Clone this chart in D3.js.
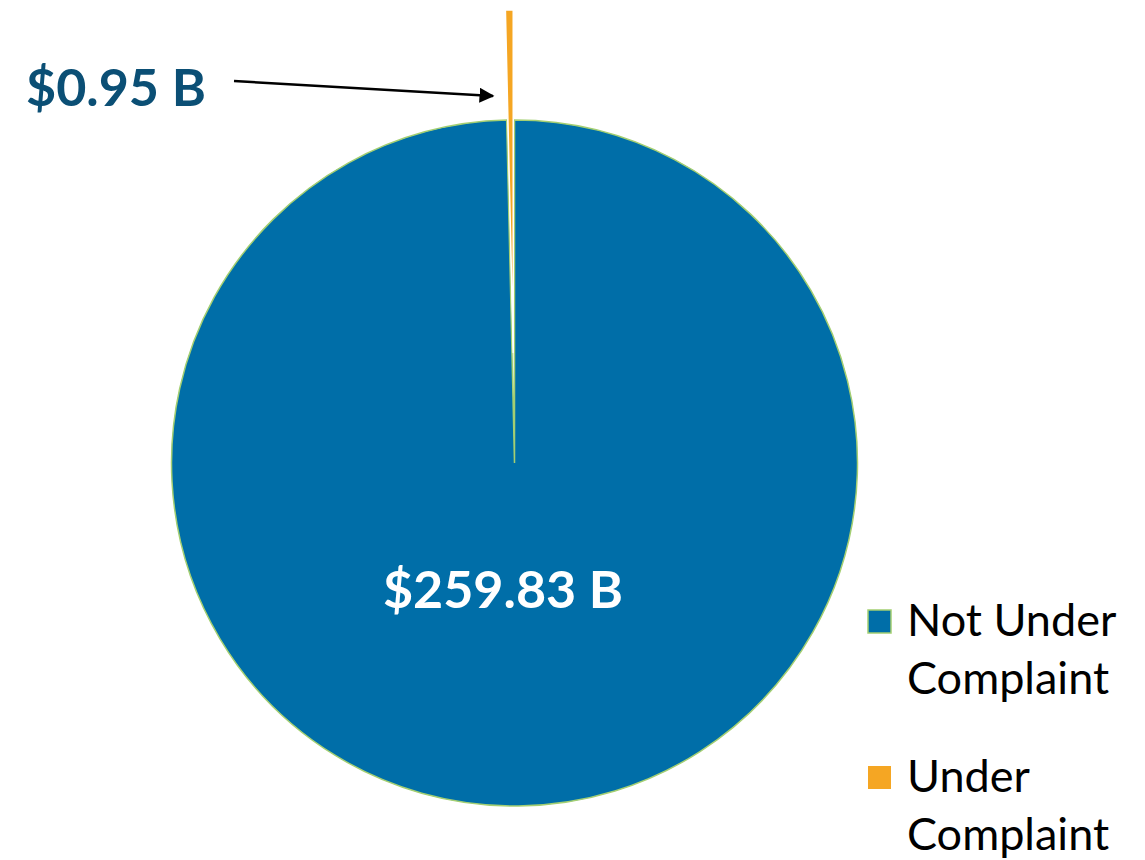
<!DOCTYPE html>
<html>
<head>
<meta charset="utf-8">
<script src="https://cdn.jsdelivr.net/npm/d3@7.9.0/dist/d3.min.js"></script>
<style>
  body { margin: 0; background: #fff; }
  svg { display: block; }
</style>
</head>
<body>
<svg id="chart" width="1145" height="860"></svg>
<script>
// data
const categories = ['Not Under Complaint', 'Under Complaint'];
const values = [259.83, 0.95];
const valueLabels = ['$259.83 B', '$0.95 B'];
const legendLines = [['Not Under', 'Complaint'], ['Under', 'Complaint']];

const colors = d3.scaleOrdinal().domain(categories).range(['#006ea8', '#f5a623']);
const strokes = ['#a4cf72', '#ffffff'];

const svg = d3.select('#chart');
const cx = 514.5, cy = 463, radius = 343;
const explode = [0, 110];

// clockwise from 12 o'clock, so the small slice ends up just left of the top
const pie = d3.pie().sort(null).value((d) => d.value);
const arc = d3.arc().innerRadius(0).outerRadius(radius);

const pieData = pie(categories.map((c, i) => ({ name: c, value: values[i] })));

const g = svg.append('g').attr('transform', `translate(${cx},${cy})`);

g.selectAll('path')
    .data(pieData)
    .join('path')
    .attr('d', arc)
    .attr('fill', (d) => colors(d.data.name))
    .attr('stroke', (d, i) => strokes[i])
    .attr('stroke-width', 1.5)
    .attr('transform', (d, i) => {
        const mid = (d.startAngle + d.endAngle) / 2;
        return `translate(${Math.sin(mid) * explode[i]},${-Math.cos(mid) * explode[i]})`;
    });

// big label
svg.append('text')
    .attr('x', 503).attr('y', 608)
    .attr('text-anchor', 'middle')
    .attr('font-family', 'Lato, sans-serif')
    .attr('font-weight', 'bold')
    .attr('font-size', 52)
    .attr('fill', '#ffffff')
    .text(valueLabels[0]);

// small slice callout
svg.append('text')
    .attr('x', 26).attr('y', 106)
    .attr('font-family', 'Lato, sans-serif')
    .attr('font-weight', 'bold')
    .attr('font-size', 52)
    .attr('fill', '#0b4f75')
    .text(valueLabels[1]);

svg.append('defs').append('marker')
    .attr('id', 'arrow')
    .attr('viewBox', '0 0 10 10')
    .attr('refX', 9).attr('refY', 5)
    .attr('markerWidth', 6).attr('markerHeight', 6)
    .attr('orient', 'auto')
    .append('path')
    .attr('d', 'M0,0L10,5L0,10z')
    .attr('fill', '#000');

svg.append('line')
    .attr('x1', 234).attr('y1', 81)
    .attr('x2', 493).attr('y2', 96)
    .attr('stroke', '#000')
    .attr('stroke-width', 2.5)
    .attr('marker-end', 'url(#arrow)');

// legend
const legend = svg.append('g').attr('transform', 'translate(868,610)');
categories.forEach((c, i) => {
    const row = legend.append('g').attr('transform', `translate(0,${i * 156})`);
    row.append('rect')
        .attr('x', 0).attr('y', 0)
        .attr('width', 23).attr('height', 23)
        .attr('fill', colors(c))
        .attr('stroke', i === 0 ? strokes[0] : 'none')
        .attr('stroke-width', 1.5);
    legendLines[i].forEach((t, j) => {
        row.append('text')
            .attr('x', 39).attr('y', 26 + j * 58)
            .attr('font-family', 'Lato, sans-serif')
            .attr('font-size', 45)
            .attr('fill', '#000')
            .text(t);
    });
});
</script>
</body>
</html>
